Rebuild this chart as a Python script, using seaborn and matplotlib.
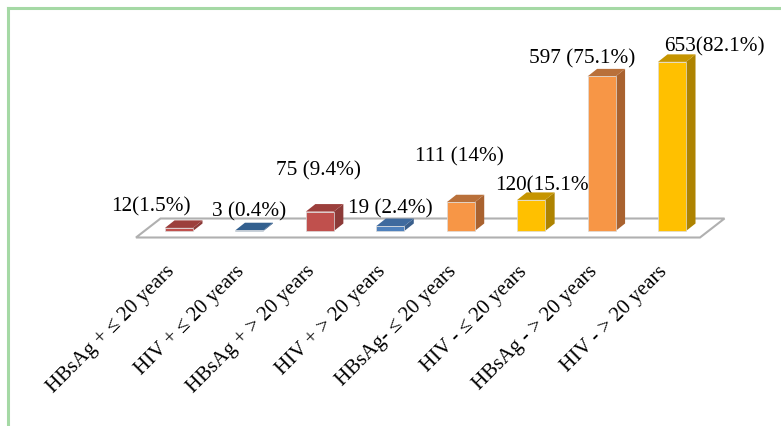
import seaborn as sns
import matplotlib.pyplot as plt
from matplotlib.lines import Line2D
from matplotlib.patches import Polygon
from matplotlib.transforms import ScaledTranslation

categories = ['HBsAg + ≤ 20 years', 'HIV + ≤ 20 years', 'HBsAg + > 20 years', 'HIV + > 20 years',
              'HBsAg- ≤ 20 years', 'HIV - ≤ 20 years', 'HBsAg - > 20 years', 'HIV - > 20 years']
values = [12, 3, 75, 19, 111, 120, 597, 653]
labels = ['12(1.5%)', '3 (0.4%)', '75 (9.4%)', '19 (2.4%)', '111 (14%)', '120(15.1%)', '597 (75.1%)', '653(82.1%)']

front_colors = ['#c0504d', '#3f72ab', '#c0504d', '#4f81bd', '#f79646', '#ffc000', '#f79646', '#ffc000']
side_colors = ['#8c3a38', '#2c5180', '#8c3a38', '#3a5f8c', '#a9622f', '#ae8300', '#a9622f', '#ae8300']
top_colors = ['#9c3f3c', '#33608f', '#9c3f3c', '#3f6a9e', '#b9703a', '#c69500', '#b9703a', '#c69500']

# label offset from the bar top centre, in pixels
label_offsets = [(-28, 21), (0, 18), (-1, 41), (0, 17), (-1, 45), (14, 14), (-19, 18), (42, 15)]

sns.set_style('white')
plt.rcParams['font.family'] = ['Liberation Serif', 'DejaVu Serif']

fig = plt.figure(figsize=(7.81, 4.26), dpi=100)
W, H = 781, 426
left, right, top, bottom = 130, 730, 40, 240
ax = fig.add_axes([left / W, (H - bottom) / H, (right - left) / W, (bottom - top) / H])
ax.patch.set_alpha(0)

# pixel scale of the axes
x0, x_step = 179, 70.43
y0, y_step = 231, 0.259

sns.barplot(x=categories, y=values, hue=categories, palette=front_colors, legend=False,
            width=28 / x_step, saturation=1, edgecolor='#dcdcdc', linewidth=0.5, zorder=3, ax=ax)
ax.set_xlim((left - x0) / x_step, (right - x0) / x_step)
ax.set_ylim((y0 - bottom) / y_step, (y0 - top) / y_step)

# depth of the fake 3D look, in data units
dx = 9.5 / x_step
dy = 7.5 / y_step

# floor
xa, xb = (136 - x0) / x_step, (700 - x0) / x_step
ya = (y0 - 237.5) / y_step
floor_dx, floor_dy = 24.5 / x_step, 19 / y_step
ax.add_patch(Polygon([(xa, ya), (xb, ya), (xb + floor_dx, ya + floor_dy), (xa + floor_dx, ya + floor_dy)],
                     closed=True, facecolor='white', edgecolor='#b0b0b0', linewidth=1.5, zorder=1))

for i, bar in enumerate(ax.patches[:len(values)]):
    x1 = bar.get_x()
    x2 = x1 + bar.get_width()
    h = bar.get_height()
    ax.add_patch(Polygon([(x2, 0), (x2 + dx, dy), (x2 + dx, h + dy), (x2, h)],
                         closed=True, facecolor=side_colors[i], edgecolor='none', zorder=2.8))
    ax.add_patch(Polygon([(x1, h), (x2, h), (x2 + dx, h + dy), (x1 + dx, h + dy)],
                         closed=True, facecolor=top_colors[i], edgecolor='none', zorder=2.8))
    ox, oy = label_offsets[i]
    ax.annotate(labels[i], xy=(i, h), xytext=(ox * 0.72, oy * 0.72), textcoords='offset points',
                ha='center', va='center', fontsize=15.3, color='black', zorder=2.5)

ax.tick_params(axis='x', length=0, pad=16, labelsize=15, bottom=False)
ax.tick_params(axis='y', left=False, labelleft=False)
ax.set_xticks(range(len(categories)))
ax.set_xticklabels(categories, rotation=45, ha='right', rotation_mode='anchor', color='black')
shift = ScaledTranslation(-14 / 100, 0, fig.dpi_scale_trans)
for tick in ax.get_xticklabels():
    tick.set_transform(tick.get_transform() + shift)
ax.set_ylabel('')
sns.despine(ax=ax, left=True, bottom=True)

# green frame, only the top and left sides show
frame = '#a5d9a5'
fig.add_artist(Line2D([8 / W, 8 / W], [0, 1 - 8 / H], color=frame, linewidth=2.2, solid_capstyle='projecting'))
fig.add_artist(Line2D([8 / W, 1], [1 - 8 / H, 1 - 8 / H], color=frame, linewidth=2.2, solid_capstyle='projecting'))

fig.savefig('out.png', dpi=100)
